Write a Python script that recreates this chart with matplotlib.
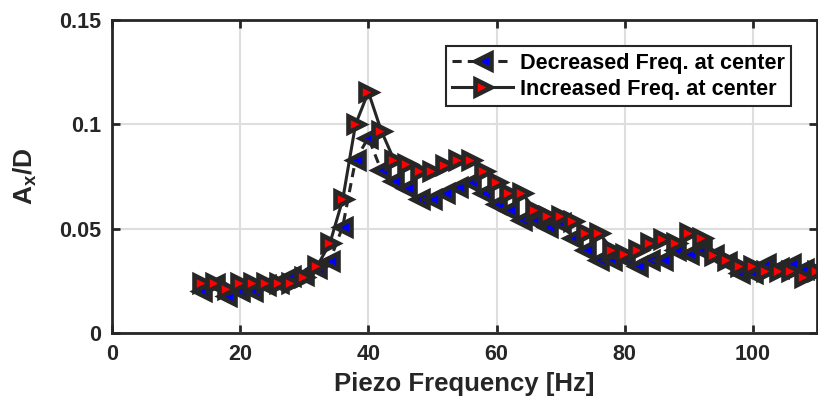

# Amplitude vs piezo frequency, up and down sweeps

import numpy as np
import matplotlib.pyplot as plt

plt.rcParams['font.family'] = ['Liberation Sans', 'DejaVu Sans']
plt.rcParams['font.weight'] = 'bold'
plt.rcParams['mathtext.fontset'] = 'custom'
plt.rcParams['mathtext.rm'] = 'Liberation Sans:bold'
plt.rcParams['mathtext.bf'] = 'Liberation Sans:bold'
plt.rcParams['mathtext.it'] = 'Liberation Sans:bold'

# Datos
freq = np.arange(14, 111, 2)

amp_dec = [0.0202, 0.0235, 0.0178, 0.0202, 0.0202, 0.023, 0.024, 0.0274, 0.028, 0.031,
           0.0347, 0.051, 0.083, 0.0936, 0.078, 0.0727, 0.0696, 0.0643, 0.0643, 0.0672,
           0.0699, 0.0724, 0.0672, 0.062, 0.059, 0.054, 0.054, 0.051, 0.0527, 0.0455,
           0.040, 0.0348, 0.0348, 0.036, 0.032, 0.0348, 0.0348, 0.040, 0.0378, 0.040,
           0.0375, 0.034, 0.0287, 0.0287, 0.033, 0.031, 0.033, 0.0306, 0.029]

amp_inc = [0.024, 0.024, 0.021, 0.024, 0.024, 0.024, 0.024, 0.024, 0.027, 0.032,
           0.043, 0.064, 0.100, 0.1155, 0.097, 0.083, 0.081, 0.0776, 0.0776, 0.0805,
           0.083, 0.083, 0.0776, 0.0724, 0.067, 0.067, 0.059, 0.056, 0.056, 0.0535,
           0.048, 0.048, 0.040, 0.0378, 0.040, 0.043, 0.045, 0.043, 0.048, 0.0455,
           0.0375, 0.0348, 0.032, 0.032, 0.0295, 0.0295, 0.0295, 0.027, 0.0295]

dark = '#262626'

fig = plt.figure(figsize=(8.18, 4.07), dpi=100)
ax = fig.add_axes([112/818, 1 - 333/407, 705/818, 313/407])

ax.plot(freq, amp_dec, linestyle=(0, (3, 2)), color=dark, linewidth=2.2,
        marker='<', markersize=11, markerfacecolor='blue', markeredgecolor=dark,
        markeredgewidth=3.3, label='Decreased Freq. at center')
ax.plot(freq, amp_inc, linestyle='-', color=dark, linewidth=2.2,
        marker='>', markersize=11, markerfacecolor='red', markeredgecolor=dark,
        markeredgewidth=3.3, label='Increased Freq. at center')

ax.set_xlim(0, 110)
ax.set_ylim(0, 0.15)
ax.set_xticks([0, 20, 40, 60, 80, 100])
ax.set_yticks([0, 0.05, 0.1, 0.15])
ax.set_yticklabels(['0', '0.05', '0.1', '0.15'])

ax.grid(True, color='#dedede', linewidth=1.5)
ax.set_axisbelow(True)
for s in ax.spines.values():
    s.set_linewidth(2)
    s.set_color(dark)
ax.tick_params(direction='in', top=True, right=True, length=6, width=2,
               colors=dark, labelsize=15.5, pad=8)
for lab in ax.get_xticklabels() + ax.get_yticklabels():
    lab.set_fontweight('bold')

ax.set_xlabel('Piezo Frequency [Hz]', fontsize=18.5, fontweight='bold', color=dark, labelpad=5)
ax.set_ylabel(r'A$_{x}$/D', fontsize=19, fontweight='bold', color=dark, labelpad=14)

leg = ax.legend(loc='upper right', fontsize=15.6, fancybox=False, framealpha=1,
                edgecolor=dark, borderpad=0.3, handlelength=2.8, handletextpad=0.3,
                labelspacing=0.25, borderaxespad=1.2)
leg.get_frame().set_linewidth(1.5)
for t in leg.get_texts():
    t.set_fontweight('bold')
    t.set_color('black')

fig.savefig('out.png', dpi=100)
